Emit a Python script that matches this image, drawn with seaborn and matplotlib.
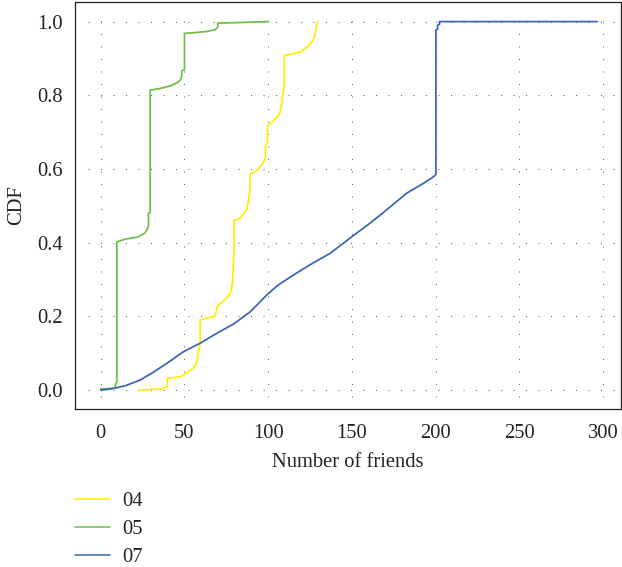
import numpy as np
import pandas as pd
import seaborn as sns
import matplotlib
matplotlib.use("Agg")
import matplotlib.pyplot as plt

# ---- data ----
series_names = ["04", "05", "07"]

x_04 = [23.5, 36.4, 38.0, 39.8, 39.8, 44.0, 47.5, 51.0, 55.4, 57.2, 58.2, 59.4, 59.4,
        63.0, 67.3, 68.6, 69.7, 73.0, 76.3, 78.0, 78.9, 79.3, 79.7, 79.7, 83.0, 87.2,
        88.5, 89.2, 89.3, 93.0, 97.2, 98.4, 98.4, 99.6, 99.6, 103.0, 106.8, 108.2,
        109.6, 109.6, 114.0, 119.0, 123.0, 126.0, 127.5, 128.5, 129.5]
y_04 = [0.0, 0.003, 0.006, 0.008, 0.032, 0.034, 0.036, 0.045, 0.060, 0.072, 0.10, 0.13, 0.19,
        0.195, 0.199, 0.205, 0.228, 0.24, 0.255, 0.27, 0.30, 0.36, 0.37, 0.46, 0.465, 0.49,
        0.52, 0.55, 0.586, 0.595, 0.618, 0.63, 0.663, 0.67, 0.717, 0.73, 0.749, 0.78,
        0.83, 0.908, 0.912, 0.917, 0.93, 0.945, 0.955, 0.98, 1.0]

x_05 = [0.0, 8.5, 9.0, 9.6, 9.6, 15.0, 22.0, 26.0, 27.5, 28.5, 28.5, 29.5, 29.5,
        35.0, 42.0, 46.0, 47.4, 48.4, 48.4, 50.0, 50.0, 56.0, 63.0, 68.3, 69.9, 69.9,
        80.0, 100.0]
y_05 = [0.003, 0.005, 0.018, 0.02, 0.402, 0.41, 0.415, 0.425, 0.434, 0.445, 0.48, 0.482, 0.814,
        0.818, 0.826, 0.835, 0.841, 0.85, 0.866, 0.87, 0.968, 0.970, 0.973, 0.978, 0.985, 0.996,
        0.997, 1.0]

x_07 = [0.0, 5.0, 8.5, 15.0, 23.5, 31.0, 39.4, 49.4, 59.4, 69.3, 79.3, 89.2, 99.2,
        105.2, 107.0, 115.1, 125.0, 137.0, 150.0, 160.0, 167.0, 175.0, 182.7, 192.8,
        198.8, 200.2, 200.2, 201.2, 201.2, 202.4, 202.4, 296.5]
y_07 = [0.0, 0.002, 0.005, 0.012, 0.027, 0.047, 0.072, 0.104, 0.127, 0.154, 0.179, 0.212, 0.258,
        0.282, 0.288, 0.312, 0.34, 0.371, 0.416, 0.45, 0.475, 0.505, 0.534, 0.561,
        0.579, 0.585, 0.977, 0.98, 0.99, 0.993, 1.0, 1.0]

x_ticks = [0, 50, 100, 150, 200, 250, 300]
y_ticks = [0.0, 0.2, 0.4, 0.6, 0.8, 1.0]
y_tick_labels = ["0.0", "0.2", "0.4", "0.6", "0.8", "1.0"]
x_label = "Number of friends"
y_label = "CDF"

colors = {"04": "#FFEE00", "05": "#6CBF45", "07": "#3A63B6"}

# ---- long table ----
frames = []
for name, xs, ys in [("04", x_04, y_04), ("05", x_05, y_05), ("07", x_07, y_07)]:
    frames.append(pd.DataFrame({"friends": xs, "cdf": ys, "series": name,
                                "order": np.arange(len(xs))}))
df = pd.concat(frames, ignore_index=True)

FS = 14.8
sns.set_theme(style="white")
plt.rcParams["font.family"] = ["Liberation Serif", "DejaVu Serif"]
plt.rcParams["font.size"] = FS

W, H = 622, 567
fig = plt.figure(figsize=(W / 100, H / 100), dpi=100)
ax = fig.add_axes([75 / W, 1 - 409 / H, (620.7 - 75) / W, (409 - 1.7) / H])

xlim = (-15.4, 310.6)
ylim = (-0.0516, 1.054)

# dotted grid
dot = (0, (1, 11))
ax.vlines(x_ticks, -0.018, 1.03, colors="#666666", linewidth=0.75, linestyles=[dot], zorder=1)
ax.hlines(y_ticks, -7.6, 307, colors="#666666", linewidth=0.75, linestyles=[dot], zorder=1)

sns.lineplot(data=df, x="friends", y="cdf", hue="series", hue_order=series_names,
             palette=colors, sort=False, estimator=None, units="series",
             linewidth=1.25, ax=ax, legend=True, zorder=3)

ax.set_xlim(*xlim)
ax.set_ylim(*ylim)
ax.set_xticks(x_ticks)
ax.set_yticks(y_ticks)
ax.set_yticklabels(y_tick_labels)
ax.tick_params(axis="both", direction="out", length=4, width=0.9, color="#222222",
               labelsize=FS, labelcolor="#222222", pad=5.0)
ax.tick_params(axis="x", pad=7.0)
for s in ax.spines.values():
    s.set_color("#222222")
    s.set_linewidth(0.9)
ax.grid(False)
ax.set_xlabel(x_label, fontsize=FS, color="#222222", labelpad=7)
ax.set_ylabel(y_label, fontsize=FS, color="#222222", labelpad=8)

handles, labels = ax.get_legend_handles_labels()
ax.legend_.remove()
for h in handles:
    h.set_linewidth(1.1)
fig.legend(handles, labels, loc="upper left", bbox_to_anchor=(75 / W, 1 - 492 / H),
           frameon=False, borderpad=0, borderaxespad=0, handlelength=1.72,
           handletextpad=0.58, labelspacing=0.42, fontsize=FS,
           labelcolor="#222222")

fig.savefig("out.png", dpi=100)
